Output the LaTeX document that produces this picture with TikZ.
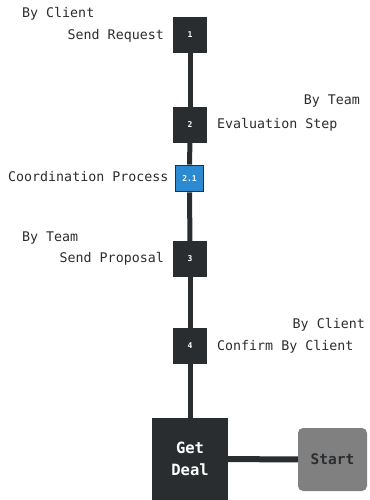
\documentclass[tikz,border=0pt]{standalone}
\usepackage{fontspec}
\setmainfont{DejaVu Sans Mono}
\begin{document}
\begin{tikzpicture}[x=1pt,y=-1pt,
  every node/.style={font=\fontsize{13.3}{15}\selectfont, text=ink, inner sep=0pt},
  stepbox/.style={draw=none, fill=ink, minimum width=34pt, minimum height=36pt, text=white, font=\fontsize{8}{9}\selectfont\bfseries},
  subbox/.style={draw=ink, line width=1.8pt, fill=sub, minimum width=28pt, minimum height=26pt, text=white, font=\fontsize{8}{9}\selectfont\bfseries},
  link/.style={draw=ink, line width=5pt}]
\definecolor{ink}{HTML}{2A2D30}
\definecolor{sub}{HTML}{2B8AD2}
\definecolor{startc}{HTML}{808080}
\useasboundingbox (0,0) rectangle (369,500);
% nodes
\node[stepbox] (s1) at (190,35) {1};
\node[stepbox] (s2) at (190,125) {2};
\node[subbox] (s21) at (189.5,178.5) {2.1};
\node[stepbox] (s3) at (190,259) {3};
\node[stepbox] (s4) at (190,346) {4};
\node[fill=ink, minimum width=76pt, minimum height=82pt, text=white, align=center, font=\fontsize{15.5}{22}\selectfont\bfseries] (deal) at (190,459) {Get\\Deal};
\node[fill=startc, rounded corners=5pt, minimum width=69pt, minimum height=63pt, font=\fontsize{14.5}{16}\selectfont\bfseries] (start) at (332.5,459.5) {Start};
% connectors
\path[link] (s1) -- (s2);
\path[link] (s2) -- (s21);
\path[link] (s21) -- (s3);
\path[link] (s3) -- (s4);
\path[link] (s4) -- (deal);
\path[link, line width=6pt] (deal) -- (start);
% labels
\node[anchor=west] (l1a) at (22,14) {By Client};
\node[anchor=east] (l1b) at (164,36) {Send Request};
\node[anchor=east] (l2a) at (360,101) {By Team};
\node[anchor=west] (l2b) at (217,125) {Evaluation Step};
\node[anchor=west] (l21) at (8,177) {Coordination Process};
\node[anchor=west] (l3a) at (22,238) {By Team};
\node[anchor=east] (l3b) at (164,259) {Send Proposal};
\node[anchor=east] (l4a) at (365,325) {By Client};
\node[anchor=west] (l4b) at (217,347) {Confirm By Client};
\end{tikzpicture}
\end{document}
